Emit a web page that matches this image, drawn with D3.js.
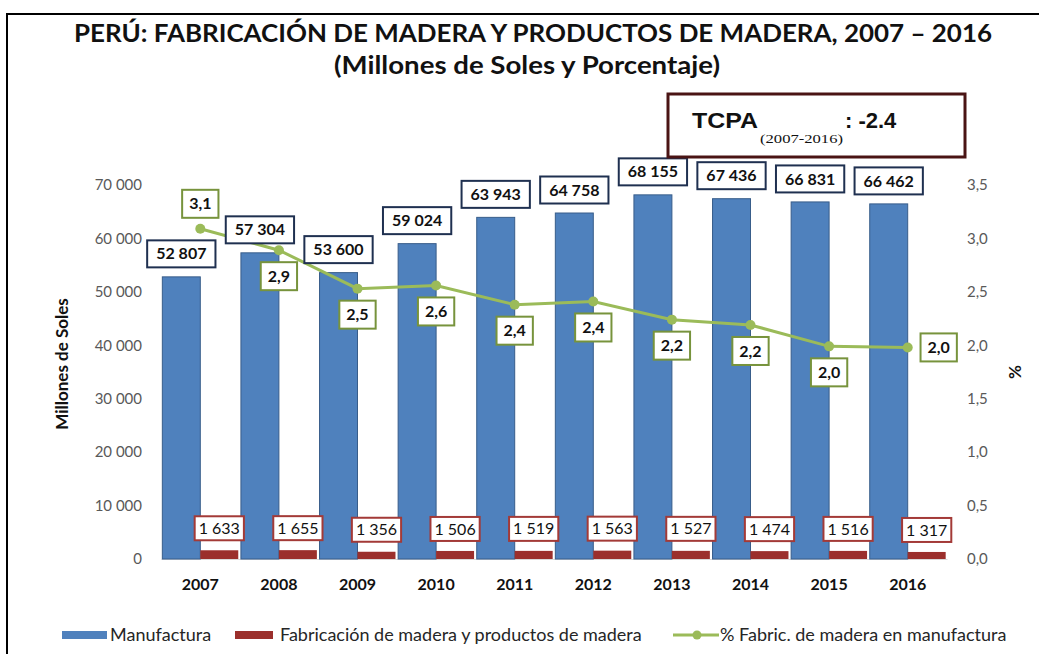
<!DOCTYPE html>
<html lang="es">
<head>
<meta charset="utf-8">
<title>Perú: fabricación de madera</title>
<script src="https://cdn.jsdelivr.net/npm/d3@7"></script>
<style>
  body { margin: 0; background: #fff; }
  svg text { font-family: Lato, "Open Sans", sans-serif; }
</style>
</head>
<body>
<script>
// data
var years        = ["2007", "2008", "2009", "2010", "2011", "2012", "2013", "2014", "2015", "2016"];
var manufactura  = [52807, 57304, 53600, 59024, 63943, 64758, 68155, 67436, 66831, 66462];
var madera       = [1633, 1655, 1356, 1506, 1519, 1563, 1527, 1474, 1516, 1317];
var pctMadera    = [3.09, 2.89, 2.53, 2.56, 2.38, 2.41, 2.24, 2.19, 1.99, 1.98];
var pctLabelPos  = ["above", "below", "below", "below", "below", "below", "below", "below", "below", "right"];
var leftTicks    = [0, 10000, 20000, 30000, 40000, 50000, 60000, 70000];
var rightTicks   = [0, 0.5, 1, 1.5, 2, 2.5, 3, 3.5];

var W = 1039, H = 654,
    plot = {left: 161, right: 947, top: 185, bottom: 559};

var loc = d3.formatLocale({decimal: ",", thousands: "\u00a0", grouping: [3], currency: ["", ""]});
var fmtInt = loc.format(",d"),
    fmtPct = loc.format(".1f");

var blue = "#4f81bd", blueDark = "#385d8a",
    red = "#9b2f2c", redBorder = "#a33a37",
    green = "#9bbb59", greenBorder = "#77933c";

var svg = d3.select("body").append("svg")
    .attr("width", W).attr("height", H);

// outer frame
svg.append("rect")
    .attr("x", 7).attr("y", 14).attr("width", 1200).attr("height", 800)
    .attr("fill", "none").attr("stroke", "#000").attr("stroke-width", 2);

// titles
svg.append("text")
    .attr("x", 533).attr("y", 42)
    .attr("text-anchor", "middle")
    .attr("textLength", 918).attr("lengthAdjust", "spacingAndGlyphs")
    .style("font-size", "25px").style("font-weight", "bold").attr("fill", "#111")
    .text("PERÚ: FABRICACIÓN DE MADERA Y PRODUCTOS DE MADERA, 2007 – 2016");
svg.append("text")
    .attr("x", 527).attr("y", 74)
    .attr("text-anchor", "middle")
    .attr("textLength", 386).attr("lengthAdjust", "spacingAndGlyphs")
    .style("font-size", "25px").style("font-weight", "bold").attr("fill", "#111")
    .text("(Millones de Soles y Porcentaje)");

// scales
var x = d3.scaleBand().domain(years).range([plot.left, plot.right]).paddingInner(0);
var xs = d3.scaleBand().domain(["manu", "mad"]).range([0, x.bandwidth()]).paddingOuter(0.035);
var yL = d3.scaleLinear().domain([0, 70000]).range([plot.bottom, plot.top]);
var yR = d3.scaleLinear().domain([0, 3.5]).range([plot.bottom, plot.top]);

// axes
var gL = svg.append("g")
    .attr("transform", "translate(" + plot.left + ",0)")
    .call(d3.axisLeft(yL).tickValues(leftTicks).tickSize(0).tickPadding(19).tickFormat(fmtInt));
var gR = svg.append("g")
    .attr("transform", "translate(" + plot.right + ",0)")
    .call(d3.axisRight(yR).tickValues(rightTicks).tickSize(0).tickPadding(20).tickFormat(fmtPct));
[gL, gR].forEach(function(g) {
  g.select(".domain").remove();
  g.selectAll("text").style("font-family", "Lato, sans-serif").style("font-size", "15px").attr("fill", "#595959");
});

var gX = svg.append("g")
    .attr("transform", "translate(0," + plot.bottom + ")")
    .call(d3.axisBottom(x).tickSize(0).tickPadding(20));
gX.select(".domain").attr("stroke", "#d9d9d9");
gX.selectAll("text").style("font-family", "Lato, sans-serif").style("font-size", "16px")
    .style("font-weight", "bold").attr("fill", "#111");

// axis titles
svg.append("text")
    .attr("transform", "translate(68,364) rotate(-90)")
    .attr("text-anchor", "middle")
    .style("font-size", "17px").style("font-weight", "bold").attr("fill", "#111")
    .text("Millones de Soles");
svg.append("text")
    .attr("transform", "translate(1021,372) rotate(-90)")
    .attr("text-anchor", "middle")
    .style("font-size", "17px").style("font-weight", "bold").attr("fill", "#111")
    .text("%");

// bars
var groups = svg.append("g").selectAll("g")
    .data(years).join("g")
    .attr("transform", function(d) { return "translate(" + x(d) + ",0)"; });

groups.append("rect")
    .attr("x", xs("manu")).attr("width", xs.bandwidth())
    .attr("y", function(d, i) { return yL(manufactura[i]); })
    .attr("height", function(d, i) { return plot.bottom - yL(manufactura[i]); })
    .attr("fill", blue).attr("stroke", blueDark).attr("stroke-width", 1);

groups.append("rect")
    .attr("x", xs("mad")).attr("width", xs.bandwidth())
    .attr("y", function(d, i) { return yL(madera[i]); })
    .attr("height", function(d, i) { return plot.bottom - yL(madera[i]); })
    .attr("fill", red);

// line
var cx = function(d, i) { return x(years[i]) + x.bandwidth() / 2; };
svg.append("path")
    .datum(pctMadera)
    .attr("fill", "none").attr("stroke", green).attr("stroke-width", 3)
    .attr("d", d3.line().x(cx).y(function(d) { return yR(d); }));
svg.append("g").selectAll("circle")
    .data(pctMadera).join("circle")
    .attr("cx", cx).attr("cy", function(d) { return yR(d); })
    .attr("r", 5).attr("fill", green);

// boxed labels
function boxLabel(cxv, cyv, txt, opts) {
  var g = svg.append("g");
  var r = g.append("rect");
  var t = g.append("text")
      .attr("x", cxv).attr("y", cyv).attr("dy", "0.35em")
      .attr("text-anchor", "middle")
      .style("font-size", opts.size + "px").style("font-weight", opts.weight).attr("fill", "#111")
      .text(txt);
  var w = t.node().getComputedTextLength() + opts.pad * 2;
  r.attr("x", cxv - w / 2).attr("y", cyv - opts.h / 2)
   .attr("width", w).attr("height", opts.h)
   .attr("fill", "#fff").attr("stroke", opts.stroke).attr("stroke-width", 2);
}

years.forEach(function(yr, i) {
  var bx = x(yr) + xs("manu") + xs.bandwidth() / 2;
  boxLabel(bx, yL(manufactura[i]) - 10 - 13, fmtInt(manufactura[i]),
           {pad: 9, h: 27, size: 16, stroke: "#1f3050", weight: "bold"});
  var rx = x(yr) + xs("mad") + xs.bandwidth() / 2;
  boxLabel(rx, yL(madera[i]) - 10 - 12, fmtInt(madera[i]),
           {pad: 4, h: 24, size: 16, stroke: redBorder, weight: "normal"});
  var px = cx(null, i), py = yR(pctMadera[i]);
  var pos = pctLabelPos[i];
  if (pos === "above") py -= 25;
  else if (pos === "below") py += 26;
  else px += 31;
  boxLabel(px, py, fmtPct(pctMadera[i]),
           {pad: 7, h: 28, size: 16, stroke: greenBorder, weight: "bold"});
});

// TCPA box
svg.append("rect")
    .attr("x", 668).attr("y", 94).attr("width", 297).attr("height", 63)
    .attr("fill", "#fff").attr("stroke", "#4a1414").attr("stroke-width", 3);
svg.append("text")
    .attr("x", 692).attr("y", 128)
    .attr("textLength", 66).attr("lengthAdjust", "spacingAndGlyphs")
    .style("font-family", "'Liberation Sans', Arial, sans-serif")
    .style("font-size", "22px").style("font-weight", "bold").attr("fill", "#111")
    .text("TCPA");
svg.append("text")
    .attr("x", 760).attr("y", 143)
    .attr("textLength", 83).attr("lengthAdjust", "spacingAndGlyphs")
    .style("font-family", "'Liberation Serif', serif")
    .style("font-size", "13px").attr("fill", "#111")
    .text("(2007-2016)");
svg.append("text")
    .attr("x", 845).attr("y", 128)
    .style("font-family", "'Liberation Sans', Arial, sans-serif")
    .style("font-size", "22px").style("font-weight", "bold").attr("fill", "#111")
    .text(": -2.4");

// legend
var lg = svg.append("g").style("font-size", "18px").attr("fill", "#262626");
lg.append("rect").attr("x", 62).attr("y", 631).attr("width", 45).attr("height", 8).attr("fill", blue);
lg.append("text").attr("x", 110).attr("y", 641).text("Manufactura");
lg.append("rect").attr("x", 235).attr("y", 631).attr("width", 38).attr("height", 8).attr("fill", red);
lg.append("text").attr("x", 280).attr("y", 641).text("Fabricación de madera y productos de madera");
lg.append("line").attr("x1", 673).attr("x2", 719).attr("y1", 635).attr("y2", 635)
    .attr("stroke", green).attr("stroke-width", 3);
lg.append("circle").attr("cx", 697).attr("cy", 635).attr("r", 4.5).attr("fill", green);
lg.append("text").attr("x", 720).attr("y", 641).text("% Fabric. de madera en manufactura");
</script>
</body>
</html>
